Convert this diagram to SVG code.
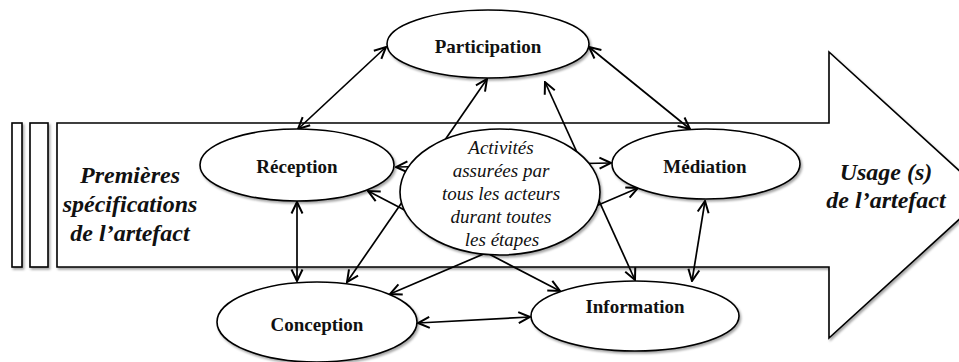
<svg xmlns="http://www.w3.org/2000/svg" width="959" height="362" viewBox="0 0 959 362">
<style>
.sh{stroke:#000;stroke-width:1.6;fill:#fff}
.node{fill:#fff;stroke:#000;stroke-width:1.6}
.lbl{font-family:"Liberation Serif","Times New Roman",serif;font-weight:bold;font-size:19px;text-anchor:middle;fill:#111}
.big{font-family:"Liberation Serif","Times New Roman",serif;font-weight:bold;font-style:italic;font-size:24px;text-anchor:middle;fill:#111}
.ctr{font-family:"Liberation Serif","Times New Roman",serif;font-style:italic;font-size:19px;text-anchor:middle;fill:#111}
.con{stroke:#000;stroke-width:1.7;fill:none;marker-start:url(#ah);marker-end:url(#ah)}
</style>
<defs>
<filter id="ds" x="-10%" y="-10%" width="125%" height="130%">
<feDropShadow dx="1.5" dy="2" stdDeviation="1.2" flood-color="#000" flood-opacity="0.35"/>
</filter>
<marker id="ah" viewBox="0 0 14 14" refX="13" refY="7" markerWidth="14" markerHeight="14" markerUnits="userSpaceOnUse" orient="auto-start-reverse">
<path d="M1.5,1.5 L13,7 L1.5,12.5" fill="none" stroke="#000" stroke-width="2"/>
</marker>
</defs>
<rect width="959" height="362" fill="#fff"/>
<g id="bigarrow" filter="url(#ds)">
<rect class="sh" x="12" y="123" width="10" height="144"/>
<rect class="sh" x="30" y="123" width="18" height="144"/>
<polygon class="sh" points="57,123 829,123 829,52 986,195 829,338 829,267 57,267"/>
</g>
<g id="labels-arrow">
<text class="big" x="130" y="183">Premières</text>
<text class="big" x="130" y="212">spécifications</text>
<text class="big" x="130" y="241">de l’artefact</text>
<text class="big" x="886" y="180">Usage (s)</text>
<text class="big" x="886" y="208">de l’artefact</text>
</g>
<g id="connectors">
<line class="con" x1="386" y1="47" x2="298" y2="129"/>
<line class="con" x1="589" y1="47" x2="690" y2="129"/>
<line class="con" x1="487" y1="79" x2="347" y2="282"/>
<line class="con" x1="545" y1="82" x2="635" y2="280"/>
<line class="con" x1="396" y1="167" x2="611" y2="163"/>
<line class="con" x1="297" y1="202" x2="297" y2="281"/>
<line class="con" x1="368" y1="191" x2="560" y2="291"/>
<line class="con" x1="638" y1="188" x2="390" y2="294"/>
<line class="con" x1="705" y1="201" x2="692" y2="281"/>
<line class="con" x1="418" y1="323" x2="530" y2="317"/>
</g>
<g id="participation">
<ellipse class="node" filter="url(#ds)" cx="488" cy="44" rx="101" ry="34"/>
<text class="lbl" x="488" y="53">Participation</text>
</g>
<g id="reception">
<ellipse class="node" filter="url(#ds)" cx="297" cy="165" rx="97" ry="36"/>
<text class="lbl" x="297" y="173">Réception</text>
</g>
<g id="mediation">
<ellipse class="node" filter="url(#ds)" cx="706" cy="164" rx="94" ry="35"/>
<text class="lbl" x="705" y="173">Médiation</text>
</g>
<g id="conception">
<ellipse class="node" filter="url(#ds)" cx="317" cy="322" rx="100" ry="40"/>
<text class="lbl" x="317" y="331">Conception</text>
</g>
<g id="information">
<ellipse class="node" filter="url(#ds)" cx="635" cy="316" rx="104" ry="35"/>
<text class="lbl" x="635" y="313">Information</text>
</g>
<g id="activites">
<ellipse class="node" filter="url(#ds)" cx="500" cy="192" rx="100" ry="63"/>
<text class="ctr" x="501" y="154">Activités</text>
<text class="ctr" x="501" y="177">assurées par</text>
<text class="ctr" x="501" y="200">tous les acteurs</text>
<text class="ctr" x="501" y="223">durant toutes</text>
<text class="ctr" x="502" y="246">les étapes</text>
</g>
</svg>
